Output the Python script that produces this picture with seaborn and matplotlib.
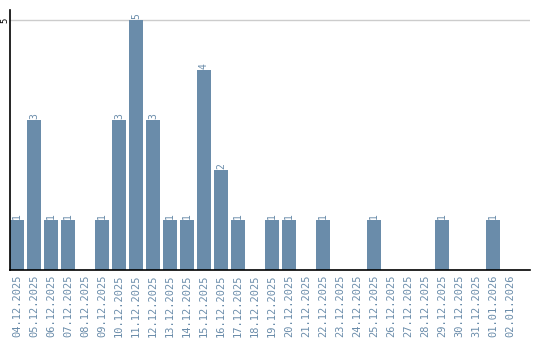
import matplotlib
matplotlib.use("Agg")
import matplotlib.pyplot as plt
import seaborn as sns
import pandas as pd

dates = ["04.12.2025", "05.12.2025", "06.12.2025", "07.12.2025", "08.12.2025",
         "09.12.2025", "10.12.2025", "11.12.2025", "12.12.2025", "13.12.2025",
         "14.12.2025", "15.12.2025", "16.12.2025", "17.12.2025", "18.12.2025",
         "19.12.2025", "20.12.2025", "21.12.2025", "22.12.2025", "23.12.2025",
         "24.12.2025", "25.12.2025", "26.12.2025", "27.12.2025", "28.12.2025",
         "29.12.2025", "30.12.2025", "31.12.2025", "01.01.2026", "02.01.2026"]
counts = [1, 3, 1, 1, 0, 1, 3, 5, 3, 1, 1, 4, 2, 1, 0,
          1, 1, 0, 1, 0, 0, 1, 0, 0, 0, 1, 0, 0, 1, 0]
yticks = [5]

sns.set_style("white")
plt.rcParams['font.family'] = ['DejaVu Sans Mono', 'DejaVu Sans']

bar_color = "#6a8caa"
label_color = "#6a8caa"

df = pd.DataFrame({"date": dates, "count": counts})

fig = plt.figure(figsize=(5.4, 3.4), dpi=100)
ax = fig.add_axes([10/540, 70/340, 520/540, 260/340])

sns.barplot(data=df, x="date", y="count", color=bar_color, width=0.82,
            saturation=1, linewidth=0, ax=ax, zorder=3)

ax.set_xlim(-0.41, 30.18)
ax.set_ylim(0, 5.2)
ax.set_yticks(yticks)
ax.set_yticklabels([str(v) for v in yticks], rotation=90, va="center",
                   ha="center", fontsize=6.5, color="black")
ax.tick_params(axis="y", length=0, pad=3.6)
ax.tick_params(axis="x", length=0, pad=3)
for lab in ax.get_xticklabels():
    lab.set_rotation(90)
    lab.set_fontsize(7.5)
    lab.set_color(label_color)
    lab.set_va("top")
    lab.set_ha("center")

ax.set_xlabel("")
ax.set_ylabel("")
ax.grid(False)
ax.axhline(5, color="#cccccc", linewidth=1, zorder=1)

for side in ["top", "right"]:
    ax.spines[side].set_visible(False)
for side in ["left", "bottom"]:
    ax.spines[side].set_color("black")
    ax.spines[side].set_linewidth(1.2)
    ax.spines[side].set_zorder(5)

cont = ax.containers[0]
ax.bar_label(cont, labels=[str(v) if v > 0 else "" for v in counts],
             rotation=90, fontsize=7, color=label_color, padding=1)

fig.savefig("out.png", dpi=100)
